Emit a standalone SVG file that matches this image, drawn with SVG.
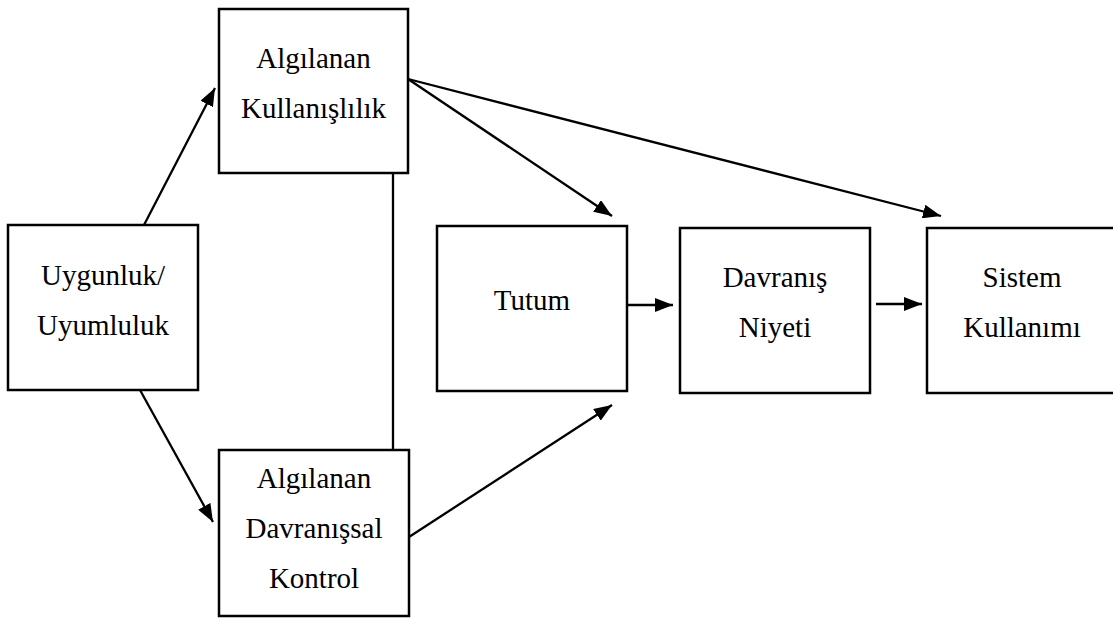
<svg xmlns="http://www.w3.org/2000/svg" width="1113" height="619" viewBox="0 0 1113 619">
<defs>
<style>
.box{fill:#fff;stroke:#000;stroke-width:2.5}
.lbl{font-family:"Liberation Serif","Times New Roman",serif;font-size:29px;fill:#000;text-anchor:middle}
.con{stroke:#000;stroke-width:2.3;fill:none}
.arr{marker-end:url(#ah)}
</style>
<marker id="ah" markerUnits="userSpaceOnUse" markerWidth="18" markerHeight="14" refX="18" refY="7" orient="auto">
<path d="M0,0 L18,7 L0,14 z" fill="#000"/>
</marker>
</defs>
<rect width="1113" height="619" fill="#fff"/>
<g id="connectors">
<line class="con arr" x1="144" y1="225" x2="215" y2="88"/>
<line class="con arr" x1="140" y1="390" x2="213" y2="522"/>
<line class="con arr" x1="408" y1="79" x2="612" y2="216"/>
<line class="con arr" x1="408" y1="79" x2="941" y2="216"/>
<line class="con arr" x1="409" y1="537" x2="612" y2="405"/>
<line class="con arr" x1="627" y1="305" x2="673" y2="305"/>
<line class="con arr" x1="876" y1="304" x2="922" y2="304"/>
<line class="con" x1="393" y1="173" x2="393" y2="450"/>
</g>
<g id="node-algilanan-kullanislilik">
<rect class="box" x="219" y="9" width="189" height="164"/>
<text class="lbl" x="313.5" y="68">Algılanan</text>
<text class="lbl" x="313.5" y="118">Kullanışlılık</text>
</g>
<g id="node-uygunluk">
<rect class="box" x="8" y="225" width="190" height="165"/>
<text class="lbl" x="103" y="285">Uygunluk/</text>
<text class="lbl" x="103" y="335">Uyumluluk</text>
</g>
<g id="node-algilanan-davranissal-kontrol">
<rect class="box" x="219" y="450" width="190" height="166"/>
<text class="lbl" x="314" y="488">Algılanan</text>
<text class="lbl" x="314" y="538">Davranışsal</text>
<text class="lbl" x="314" y="588">Kontrol</text>
</g>
<g id="node-tutum">
<rect class="box" x="437" y="226" width="190" height="165"/>
<text class="lbl" x="532" y="310">Tutum</text>
</g>
<g id="node-davranis-niyeti">
<rect class="box" x="680" y="228" width="190" height="165"/>
<text class="lbl" x="775" y="287">Davranış</text>
<text class="lbl" x="775" y="337">Niyeti</text>
</g>
<g id="node-sistem-kullanimi">
<rect class="box" x="927" y="228" width="190" height="165"/>
<text class="lbl" x="1022" y="287">Sistem</text>
<text class="lbl" x="1022" y="337">Kullanımı</text>
</g>
</svg>
